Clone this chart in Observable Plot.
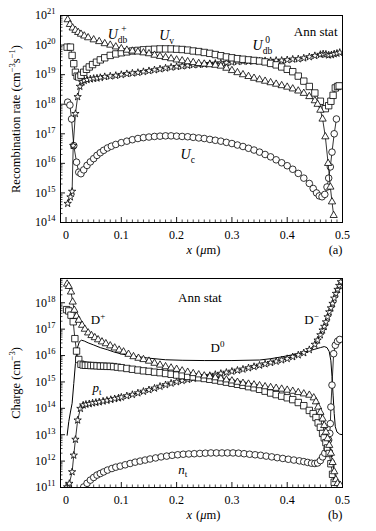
<!DOCTYPE html>
<html><head><meta charset="utf-8">
<script src="https://cdn.jsdelivr.net/npm/d3@7"></script>
<script src="https://cdn.jsdelivr.net/npm/@observablehq/plot@0.6"></script>
<style>
html,body{margin:0;padding:0;background:#fff;}
#wrap{position:relative;width:376px;height:531px;overflow:hidden;}
#wrap > div{position:absolute;left:0;}
</style></head>
<body><div id="wrap"><div id="pa" style="top:0px"></div><div id="pb" style="top:264px"></div></div>
<script>
// ---------- shared axis ticks ----------
const xMajor = [0, 0.1, 0.2, 0.3, 0.4, 0.5];
const xTickLabels = ["0", "0.1", "0.2", "0.3", "0.4", "0.5"];
const yMajorA = [1e14, 1e15, 1e16, 1e17, 1e18, 1e19, 1e20, 1e21];
const yMajorB = [1e11, 1e12, 1e13, 1e14, 1e15, 1e16, 1e17, 1e18];

// ---------- panel (a): recombination rate, pairs [x (µm), log10(rate)] ----------
const UdbPlus = [[0.003,20.86],[0.007,20.7],[0.012,20.58],[0.017,20.5],[0.022,20.43],[0.027,20.37],[0.033,20.31],[0.04,20.25],
 [0.05,20.18],[0.06,20.12],[0.07,20.05],[0.08,20.0],[0.09,19.94],[0.10,19.88],[0.11,19.83],[0.12,19.8],[0.13,19.77],[0.14,19.74],
 [0.15,19.71],[0.16,19.66],[0.17,19.62],[0.18,19.58],[0.19,19.54],[0.20,19.5],[0.21,19.47],[0.22,19.44],[0.23,19.41],[0.24,19.38],
 [0.25,19.36],[0.26,19.34],[0.27,19.32],[0.28,19.29],[0.29,19.22],[0.30,19.14],[0.31,19.07],[0.32,19.0],[0.33,18.94],[0.34,18.88],
 [0.35,18.83],[0.36,18.78],[0.37,18.73],[0.38,18.68],[0.39,18.63],[0.40,18.58],[0.41,18.52],[0.42,18.45],[0.43,18.37],[0.44,18.26],
 [0.45,18.12],[0.455,18.0],[0.46,17.8],[0.464,17.5],[0.469,16.9],[0.474,16.0],[0.478,15.2],[0.481,14.7],[0.484,14.24]];
const Uv = [[0.002,19.93],[0.008,19.93],[0.011,19.65],[0.014,19.37],[0.017,19.08],[0.020,18.95],[0.023,18.92],[0.027,18.98],
 [0.032,19.08],[0.037,19.18],[0.042,19.26],[0.048,19.34],[0.055,19.42],[0.062,19.5],[0.07,19.57],[0.08,19.65],[0.09,19.7],
 [0.10,19.74],[0.11,19.77],[0.12,19.8],[0.13,19.82],[0.14,19.84],[0.15,19.85],[0.16,19.86],[0.17,19.87],[0.18,19.87],[0.19,19.87],
 [0.20,19.86],[0.21,19.85],[0.22,19.83],[0.23,19.8],[0.24,19.78],[0.25,19.75],[0.26,19.72],[0.27,19.68],[0.28,19.64],[0.29,19.6],
 [0.30,19.57],[0.31,19.54],[0.32,19.52],[0.33,19.5],[0.34,19.48],[0.35,19.46],[0.36,19.43],[0.37,19.38],[0.38,19.33],[0.39,19.26],
 [0.40,19.18],[0.41,19.1],[0.42,18.95],[0.43,18.78],[0.44,18.6],[0.45,18.38],[0.46,18.1],[0.469,17.85],[0.475,17.95],[0.479,18.1],
 [0.483,18.3],[0.487,18.55],[0.491,18.6],[0.494,18.62]];
const Udb0 = [[0.003,14.64],[0.008,14.86],[0.011,15.05],[0.013,16.6],[0.017,17.68],[0.021,18.25],[0.025,18.6],[0.029,18.75],
 [0.033,18.8],[0.038,18.83],[0.044,18.85],[0.05,18.87],[0.056,18.88],[0.062,18.9],[0.07,18.93],[0.08,18.95],[0.09,18.97],
 [0.10,19.0],[0.11,19.03],[0.12,19.05],[0.13,19.07],[0.14,19.1],[0.15,19.13],[0.16,19.16],[0.17,19.19],[0.18,19.22],[0.19,19.25],
 [0.20,19.27],[0.21,19.29],[0.22,19.31],[0.23,19.33],[0.24,19.34],[0.25,19.35],[0.26,19.37],[0.27,19.38],[0.28,19.39],[0.29,19.4],
 [0.30,19.42],[0.31,19.44],[0.32,19.45],[0.33,19.45],[0.34,19.46],[0.35,19.46],[0.36,19.47],[0.37,19.47],[0.38,19.48],[0.39,19.48],
 [0.40,19.5],[0.41,19.52],[0.42,19.53],[0.43,19.56],[0.44,19.6],[0.45,19.64],[0.46,19.68],[0.465,19.7],[0.47,19.69],[0.475,19.66],
 [0.48,19.67],[0.485,19.7],[0.49,19.72],[0.495,19.75]];
const Uc = [[0.003,18.07],[0.007,17.97],[0.010,17.5],[0.014,16.6],[0.019,16.04],[0.023,15.7],[0.027,15.65],[0.032,15.78],
 [0.038,15.93],[0.044,16.05],[0.05,16.16],[0.056,16.27],[0.062,16.36],[0.068,16.44],[0.075,16.52],[0.082,16.58],[0.09,16.64],
 [0.10,16.7],[0.11,16.75],[0.12,16.8],[0.13,16.84],[0.14,16.87],[0.15,16.89],[0.16,16.91],[0.17,16.92],[0.18,16.93],[0.19,16.93],
 [0.20,16.92],[0.21,16.91],[0.22,16.9],[0.23,16.88],[0.24,16.86],[0.25,16.84],[0.26,16.81],[0.27,16.78],[0.28,16.75],[0.29,16.71],
 [0.30,16.67],[0.31,16.62],[0.32,16.57],[0.33,16.51],[0.34,16.45],[0.35,16.38],[0.36,16.3],[0.37,16.22],[0.38,16.12],[0.39,16.02],
 [0.40,15.92],[0.41,15.8],[0.42,15.66],[0.43,15.5],[0.44,15.32],[0.447,15.15],[0.453,15.0],[0.458,14.9],[0.463,14.87],[0.468,14.95],
 [0.472,15.2],[0.475,15.5],[0.478,15.88],[0.481,16.38],[0.485,17.0],[0.489,17.5]];

// ---------- panel (b): charge, pairs [x (µm), log10(charge)] ----------
const Dplus = [[0.002,18.71],[0.005,18.62],[0.009,18.41],[0.012,18.03],[0.015,17.72],[0.019,17.49],[0.023,17.34],[0.029,17.15],
 [0.034,17.0],[0.04,16.86],[0.046,16.76],[0.052,16.68],[0.058,16.6],[0.065,16.52],[0.072,16.45],[0.08,16.37],[0.088,16.29],
 [0.096,16.21],[0.104,16.14],[0.113,16.05],[0.122,15.96],[0.131,15.9],[0.14,15.85],[0.15,15.79],[0.16,15.71],[0.17,15.64],
 [0.18,15.58],[0.19,15.53],[0.20,15.48],[0.21,15.42],[0.22,15.37],[0.23,15.32],[0.24,15.27],[0.25,15.23],[0.26,15.2],[0.27,15.16],
 [0.28,15.12],[0.29,15.08],[0.30,15.04],[0.31,14.99],[0.32,14.95],[0.33,14.92],[0.34,14.89],[0.35,14.86],[0.36,14.82],[0.37,14.79],
 [0.38,14.76],[0.39,14.73],[0.40,14.69],[0.41,14.65],[0.42,14.6],[0.43,14.55],[0.44,14.5],[0.448,14.4],[0.452,14.25],[0.456,14.05],
 [0.46,13.85],[0.464,13.6],[0.467,13.35],[0.47,13.1],[0.473,12.85],[0.476,12.6],[0.479,12.3],[0.482,11.95],[0.485,11.6],
 [0.488,11.3],[0.491,11.15],[0.496,11.08]];
const pt = [[0.001,17.74],[0.005,17.69],[0.009,17.53],[0.013,17.28],[0.016,16.64],[0.019,16.17],[0.023,15.85],[0.027,15.67],
 [0.031,15.64],[0.035,15.63],[0.04,15.63],[0.045,15.62],[0.05,15.62],[0.056,15.61],[0.062,15.6],[0.068,15.6],[0.074,15.59],
 [0.08,15.59],[0.086,15.58],[0.093,15.56],[0.10,15.54],[0.11,15.51],[0.12,15.48],[0.13,15.45],[0.14,15.42],[0.15,15.4],[0.16,15.37],
 [0.17,15.35],[0.18,15.32],[0.19,15.29],[0.20,15.26],[0.21,15.24],[0.22,15.21],[0.23,15.19],[0.24,15.16],[0.25,15.13],[0.26,15.1],
 [0.27,15.07],[0.28,15.03],[0.29,14.99],[0.30,14.95],[0.31,14.91],[0.32,14.87],[0.33,14.82],[0.34,14.78],[0.35,14.72],[0.36,14.65],
 [0.37,14.58],[0.38,14.52],[0.39,14.46],[0.40,14.4],[0.41,14.33],[0.42,14.22],[0.43,14.1],[0.44,13.92],[0.447,13.8],[0.452,13.65],
 [0.456,13.45],[0.46,13.28],[0.464,13.05],[0.467,12.88],[0.47,12.7],[0.473,12.5],[0.476,12.29],[0.479,11.9],[0.482,11.5],[0.485,11.2]];
const Dminus = [[0.002,11.02],[0.006,11.15],[0.011,11.59],[0.014,12.22],[0.017,12.82],[0.021,13.55],[0.026,13.99],[0.031,14.12],
 [0.036,14.15],[0.042,14.17],[0.048,14.2],[0.054,14.22],[0.06,14.24],[0.067,14.27],[0.074,14.3],[0.081,14.33],[0.088,14.36],
 [0.095,14.39],[0.10,14.42],[0.11,14.47],[0.12,14.52],[0.13,14.58],[0.14,14.64],[0.15,14.7],[0.16,14.76],[0.17,14.83],[0.18,14.89],
 [0.19,14.95],[0.20,15.0],[0.21,15.05],[0.22,15.09],[0.23,15.13],[0.24,15.17],[0.25,15.2],[0.26,15.24],[0.27,15.28],[0.28,15.32],
 [0.29,15.36],[0.30,15.4],[0.31,15.44],[0.32,15.48],[0.33,15.53],[0.34,15.58],[0.35,15.63],[0.36,15.68],[0.37,15.73],[0.38,15.78],
 [0.39,15.83],[0.40,15.88],[0.41,15.95],[0.42,16.02],[0.43,16.1],[0.44,16.22],[0.45,16.42],[0.455,16.58],[0.46,16.78],[0.464,16.96],
 [0.467,17.1],[0.47,17.27],[0.473,17.46],[0.476,17.65],[0.479,17.8],[0.482,17.97],[0.485,18.17],[0.488,18.35],[0.491,18.5],
 [0.494,18.65],[0.497,18.79]];
const D0 = [[0.002,12.98],[0.005,13.5],[0.008,13.86],[0.011,14.19],[0.014,14.94],[0.017,15.7],[0.02,16.25],[0.024,16.52],
 [0.028,16.58],[0.033,16.55],[0.04,16.48],[0.05,16.4],[0.062,16.3],[0.075,16.22],[0.086,16.14],[0.10,16.06],[0.122,15.98],
 [0.15,15.9],[0.18,15.84],[0.21,15.82],[0.25,15.81],[0.30,15.81],[0.35,15.83],[0.37,15.88],[0.39,15.95],[0.41,16.03],[0.43,16.12],
 [0.45,16.24],[0.46,16.3],[0.467,16.34],[0.472,16.3],[0.476,16.15],[0.479,15.8],[0.481,15.2],[0.483,14.5],[0.485,13.8],
 [0.487,13.3],[0.49,13.1],[0.495,13.02],[0.5,13.0]];
const nt = [[0.032,11.02],[0.038,11.16],[0.044,11.28],[0.05,11.38],[0.056,11.47],[0.062,11.53],[0.068,11.59],[0.075,11.66],
 [0.083,11.72],[0.09,11.77],[0.098,11.81],[0.107,11.86],[0.116,11.91],[0.125,11.96],[0.134,12.0],[0.143,12.04],[0.152,12.08],
 [0.162,12.12],[0.172,12.16],[0.182,12.19],[0.192,12.22],[0.202,12.24],[0.212,12.26],[0.222,12.27],[0.232,12.28],[0.242,12.29],
 [0.252,12.3],[0.262,12.31],[0.272,12.31],[0.282,12.31],[0.292,12.31],[0.302,12.31],[0.312,12.3],[0.322,12.28],[0.332,12.26],
 [0.342,12.24],[0.352,12.22],[0.362,12.19],[0.372,12.16],[0.382,12.13],[0.392,12.1],[0.402,12.07],[0.412,12.04],[0.422,12.01],
 [0.43,11.98],[0.437,11.95],[0.444,11.92],[0.45,11.91],[0.455,11.93],[0.46,12.02],[0.464,12.16],[0.468,12.3],[0.472,12.48],
 [0.475,12.8],[0.477,13.05],[0.478,13.42],[0.479,14.05],[0.481,14.88],[0.484,16.07],[0.487,16.39],[0.491,16.54],[0.495,16.61]];

// log10 read-outs -> values on the log axis
const toRows = pairs => pairs.map(([x, e]) => ({x, v: 10 ** e}));

const FONT = "'Liberation Serif', 'Times New Roman', serif";
const it = s => `<tspan font-style="italic">${s}</tspan>`;
const rich = {
  "Udb+": `${it("U")}<tspan font-size="9.5" dy="4">db</tspan><tspan font-size="9.5" dx="-6" dy="-11">+</tspan>`,
  "Uv": `${it("U")}<tspan font-size="9.5" dy="4">v</tspan>`,
  "Udb0": `${it("U")}<tspan font-size="9.5" dy="4">db</tspan><tspan font-size="9.5" dx="-7" dy="-11">0</tspan>`,
  "Uc": `${it("U")}<tspan font-size="9.5" dy="4">c</tspan>`,
  "D+": `D<tspan font-size="9" dy="-5">+</tspan>`,
  "D-": `D<tspan font-size="9" dy="-5">−</tspan>`,
  "D0": `D<tspan font-size="9" dy="-5">0</tspan>`,
  "pt": `${it("p")}<tspan font-size="9" dy="3">t</tspan>`,
  "nt": `${it("n")}<tspan font-size="9" dy="3">t</tspan>`,
  "XLABEL": `${it("x")}<tspan dx="4">(</tspan>${it("μ")}m)`,
  "YLABEL_A": `Recombination rate (cm<tspan font-size="8.5" dy="-5">−3</tspan><tspan dy="5">s</tspan><tspan font-size="8.5" dy="-5">−1</tspan><tspan dy="5">)</tspan>`,
  "YLABEL_B": `Charge (cm<tspan font-size="8.5" dy="-5">−3</tspan><tspan dy="5">)</tspan>`
};

function panel(cfg) {
  const W = 376, mL = 60, mR = 34;
  const pw = W - mL - mR, ph = cfg.height - cfg.marginTop - cfg.marginBottom;
  const [lo, hi] = cfg.yDomain;
  const minorY = [];
  for (let e = Math.floor(Math.log10(lo)); e <= Math.ceil(Math.log10(hi)); e++)
    for (let k = 2; k <= 9; k++) { const v = k * 10 ** e; if (v > lo && v < hi) minorY.push(v); }
  const minorX = d3.range(1, 50).filter(i => i % 10 !== 0).map(i => i / 100);
  const marks = [
    Plot.ruleY(cfg.yMajor, {y: d => d, insetRight: pw - 5, strokeWidth: 0.9}),
    Plot.ruleY(minorY, {y: d => d, insetRight: pw - 2.5, strokeWidth: 0.7}),
    Plot.ruleX(xMajor, {x: d => d, insetTop: ph - 5, strokeWidth: 0.9}),
    Plot.ruleX(minorX, {x: d => d, insetTop: ph - 2.5, strokeWidth: 0.7}),
    Plot.axisY({ticks: cfg.yMajor, tickSize: 0, tickPadding: 5, fontSize: 12, label: null,
      tickFormat: d => "10^" + Math.round(Math.log10(d))}),
    Plot.axisX({ticks: xMajor, tickSize: 0, tickPadding: 8, fontSize: 12, label: null,
      tickFormat: d => xTickLabels[xMajor.indexOf(d)]})
  ];
  for (const s of cfg.series) {
    const rows = toRows(s.data);
    marks.push(Plot.line(rows, {x: "x", y: "v", stroke: "black", strokeWidth: s.symbol ? 0.8 : 1, clip: true}));
    if (s.symbol) marks.push(Plot.dot(rows, {x: "x", y: "v", symbol: s.symbol, r: s.r,
      fill: "white", stroke: "black", strokeWidth: 0.8, clip: true}));
  }
  marks.push(
    Plot.frame({stroke: "black", strokeWidth: 1}),
    Plot.text(cfg.labels, {x: "x", y: "y", text: "key", fontSize: cfg.labelSize}),
    Plot.text(["Ann stat"], {...cfg.ann, text: d => d, fontSize: 13}),
    Plot.text([cfg.tag], {frameAnchor: "bottom-right", textAnchor: "end", lineAnchor: "top", dy: 23, text: d => d, fontSize: 12.5}),
    Plot.text(["XLABEL"], {frameAnchor: "bottom", lineAnchor: "top", dy: 23, dx: 2, text: d => d, fontSize: 12.5}),
    Plot.text([cfg.ylabel], {frameAnchor: "left", rotate: -90, textAnchor: "middle", dx: -45, text: d => d, fontSize: 12.5})
  );
  const svg = Plot.plot({
    width: W, height: cfg.height, marginLeft: mL, marginRight: mR,
    marginTop: cfg.marginTop, marginBottom: cfg.marginBottom,
    style: {fontFamily: FONT, background: "white", color: "black"},
    x: {domain: [-0.01, 0.5]},
    y: {type: "log", domain: cfg.yDomain},
    marks
  });
  svg.querySelectorAll("text").forEach(t => {
    const c = t.textContent;
    const m = /^10\^(\d+)$/.exec(c);
    if (m) t.innerHTML = `10<tspan font-size="8.5" dy="-5">${m[1]}</tspan>`;
    else if (rich[c] !== undefined) t.innerHTML = rich[c];
  });
  return svg;
}

document.getElementById("pa").append(panel({
  height: 265, marginTop: 15, marginBottom: 43,
  yDomain: [1e14, 1e21], yMajor: yMajorA, tag: "(a)", ylabel: "YLABEL_A", labelSize: 14,
  ann: {frameAnchor: "top-right", textAnchor: "end", lineAnchor: "top", dx: -5, dy: 11},
  series: [
    {data: Uc, symbol: "circle", r: 3.3},
    {data: Udb0, symbol: "star", r: 2.3},
    {data: Uv, symbol: "square", r: 3.6},
    {data: UdbPlus, symbol: "triangle", r: 2.7}
  ],
  labels: [
    {key: "Udb+", x: 0.093, y: 2.2e20},
    {key: "Uv", x: 0.182, y: 2.1e20},
    {key: "Udb0", x: 0.355, y: 1.0e20},
    {key: "Uc", x: 0.22, y: 2.0e16}
  ]
}));

document.getElementById("pb").append(panel({
  height: 267, marginTop: 14, marginBottom: 44,
  yDomain: [1e11, 8.3e18], yMajor: yMajorB, tag: "(b)", ylabel: "YLABEL_B", labelSize: 13,
  ann: {x: 0.242, y: 1.6e18},
  series: [
    {data: D0, symbol: null},
    {data: nt, symbol: "circle", r: 3.3},
    {data: Dminus, symbol: "star", r: 2.3},
    {data: pt, symbol: "square", r: 3.6},
    {data: Dplus, symbol: "triangle", r: 2.7}
  ],
  labels: [
    {key: "D+", x: 0.058, y: 2.2e17},
    {key: "D-", x: 0.444, y: 2.2e17},
    {key: "D0", x: 0.274, y: 1.9e16},
    {key: "pt", x: 0.056, y: 5.8e14},
    {key: "nt", x: 0.211, y: 4.5e11}
  ]
}));
</script></body></html>
